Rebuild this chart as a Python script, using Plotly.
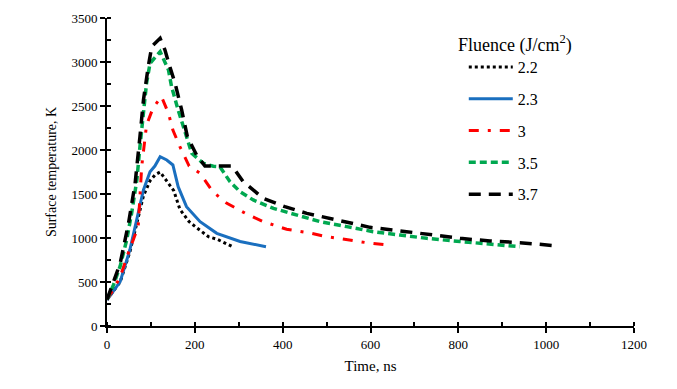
import plotly.graph_objects as go

# Fluence 2.2 J/cm2
t22 = [0, 15, 30, 52, 68, 83, 98, 110, 121, 136, 152, 166, 187, 204, 231, 251, 269, 286]
T22 = [300, 400, 500, 840, 1180, 1480, 1650, 1720, 1750, 1651, 1538, 1326, 1185, 1117, 1015, 985, 940, 901]

# Fluence 2.3 J/cm2
t23 = [0, 15, 30, 52, 68, 83, 98, 109, 121, 136, 150, 162, 181, 212, 250, 303, 362]
T23 = [295, 400, 504, 864, 1205, 1545, 1754, 1818, 1924, 1886, 1830, 1583, 1356, 1185, 1053, 960, 901]

# Fluence 3 J/cm2
t3 = [0, 15, 30, 50, 71, 79, 90, 105, 124, 140, 150, 166, 187, 212, 241, 273, 318, 356, 409, 458, 500, 546, 591, 649]
T3 = [300, 420, 560, 850, 1128, 1810, 2284, 2480, 2606, 2417, 2227, 2038, 1818, 1735, 1526, 1394, 1273, 1186, 1099, 1061, 1015, 977, 947, 915]

# Fluence 3.5 J/cm2
t35 = [0, 15, 30, 45, 56, 68, 75, 83, 90, 98, 121, 140, 147, 162, 178, 193, 219, 242, 257, 280, 303, 333, 379, 432, 485, 546, 606, 667, 728, 804, 872, 940]
T35 = [300, 470, 680, 980, 1280, 1659, 2038, 2417, 2758, 2985, 3117, 2909, 2720, 2455, 2189, 1962, 1849, 1815, 1810, 1640, 1526, 1432, 1337, 1261, 1186, 1129, 1072, 1034, 996, 960, 932, 901]

# Fluence 3.7 J/cm2
t37 = [0, 14, 30, 49, 64, 75, 83, 94, 102, 121, 132, 143, 155, 170, 183, 204, 223, 285, 310, 356, 405, 455, 523, 599, 682, 743, 804, 872, 940, 1015]
T37 = [300, 485, 712, 1167, 1621, 2151, 2568, 2950, 3177, 3269, 3136, 2947, 2758, 2455, 2151, 1943, 1818, 1818, 1640, 1451, 1356, 1280, 1205, 1121, 1072, 1034, 996, 966, 947, 915]

names = ["2.2", "2.3", "3", "3.5", "3.7"]
legend_title = "Fluence (J/cm<sup>2</sup>)"

fig = go.Figure()
series = [
    (t22, T22, names[0], dict(color="black", width=3, dash="dot")),
    (t23, T23, names[1], dict(color="#1a6fbf", width=3, dash="solid")),
    (t3, T3, names[2], dict(color="#ff0000", width=3, dash="10px,9px,3px,9px")),
    (t35, T35, names[3], dict(color="#00a850", width=3.5, dash="7px,4px")),
    (t37, T37, names[4], dict(color="black", width=3.5, dash="12px,8px")),
]
for x, y, n, ln in series:
    fig.add_trace(go.Scatter(x=x, y=y, name=n, mode="lines", line=ln, legendgroup=n))

font = "Liberation Serif, Times New Roman, serif"
fig.add_annotation(
    text=legend_title, xref="paper", yref="paper", x=0.662, y=0.916,
    xanchor="left", yanchor="middle", showarrow=False,
    font=dict(size=18, family=font, color="black"),
)
fig.update_layout(
    width=677, height=389,
    margin=dict(l=107, r=43, t=18, b=63, autoexpand=False),
    paper_bgcolor="white", plot_bgcolor="white",
    font=dict(family=font, size=13, color="black"),
    showlegend=True,
    legend=dict(
        x=0.677, y=0.896, xanchor="left", yanchor="top",
        font=dict(size=16, family=font),
        tracegroupgap=8, itemwidth=44,
        bgcolor="rgba(0,0,0,0)",
    ),
    xaxis=dict(
        range=[0, 1200], dtick=200, showgrid=False, zeroline=False, automargin=False,
        showline=True, linecolor="black", linewidth=2,
        ticks="outside", ticklen=5, tickwidth=1.5, tickcolor="black",
        minor=dict(dtick=100, ticks="inside", ticklen=4, tickcolor="black"),
        title=dict(text="Time, ns", font=dict(size=15, family=font), standoff=10),
        tickfont=dict(size=13, family=font),
    ),
    yaxis=dict(
        range=[0, 3500], dtick=500, showgrid=False, zeroline=False, automargin=False,
        showline=True, linecolor="black", linewidth=2,
        ticks="outside", ticklen=5, tickwidth=1.5, tickcolor="black",
        minor=dict(dtick=250, ticks="inside", ticklen=4, tickcolor="black"),
        title=dict(text="Surface temperature, K", font=dict(size=14, family=font), standoff=12),
        tickfont=dict(size=13, family=font),
    ),
)

fig.write_html("out.html", config={"displayModeBar": False},
               post_script="document.body.style.margin='0';")
